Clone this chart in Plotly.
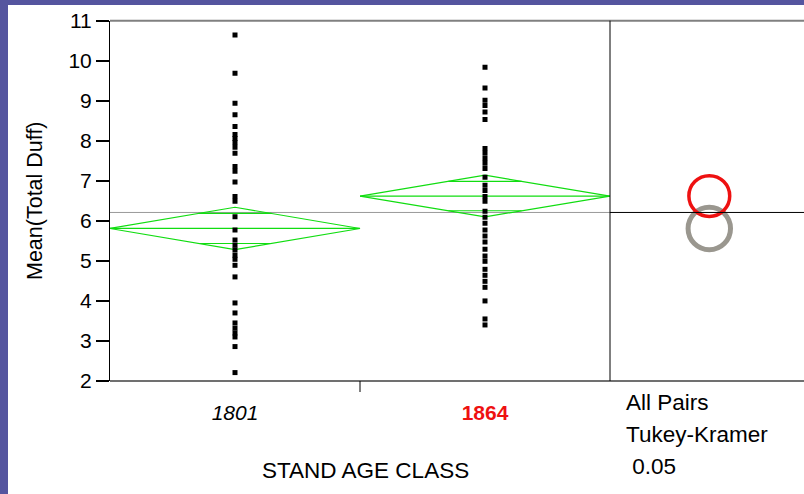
import math
import plotly.graph_objects as go

# ---------------- data ----------------
groups = ["1801", "1864"]
duff_1801 = [10.64, 9.69, 8.94, 8.65, 8.36, 8.16, 8.06, 7.96, 7.84, 7.69, 7.36, 7.24,
             6.97, 6.61, 6.49, 6.10, 5.77, 5.52, 5.39, 5.27, 5.14, 5.04, 4.89, 4.60,
             3.95, 3.70, 3.45, 3.32, 3.20, 3.10, 2.86, 2.21]
duff_1864 = [9.84, 9.32, 9.01, 8.88, 8.72, 8.53, 7.81, 7.69, 7.56, 7.44, 7.31, 7.09,
             6.89, 6.76, 6.61, 6.49, 6.24, 6.09, 5.94, 5.77, 5.62, 5.47, 5.29, 5.12,
             4.99, 4.79, 4.64, 4.49, 4.34, 4.00, 3.55, 3.40]
group_means = [5.81, 6.62]
group_ci_half = [0.53, 0.52]
circle_radius = [0.53, 0.51]
grand_mean = 6.21
y_ticks = list(range(2, 12))
side_text = ["All Pairs", "Tukey-Kramer", " 0.05"]

# ---------------- styles / layout helpers ----------------
W, H = 804, 494
FONT = "Liberation Sans, Arial, sans-serif"
GREEN = "#11dd11"
RED = "#ee1111"
GREY_C = "#9a978f"


def px(x):
    return x / W


def py(y):
    return 1 - y / H


L, R, T, B = 110, 610, 20.7, 381
ppu = (B - T) / (y_ticks[-1] - y_ticks[0])          # pixels per data unit (y)
cx_px = 709.3                                       # circle column centre (px)
x2_range = [-(cx_px - R) / ppu, (W - cx_px) / ppu]

fig = go.Figure()

# grand mean (left panel, grey)
fig.add_trace(go.Scatter(x=[0, len(groups)], y=[grand_mean, grand_mean], mode="lines",
                         line=dict(color="#999999", width=1), hoverinfo="skip",
                         showlegend=False, xaxis="x", yaxis="y"))

# mean diamonds
for i, (m, c) in enumerate(zip(group_means, group_ci_half)):
    x0, xc, x1 = i, i + 0.5, i + 1
    fig.add_trace(go.Scatter(x=[x0, xc, x1, xc, x0], y=[m, m + c, m, m - c, m],
                             mode="lines", line=dict(color=GREEN, width=1.2),
                             hoverinfo="skip", showlegend=False))
    fig.add_trace(go.Scatter(x=[x0, x1], y=[m, m], mode="lines",
                             line=dict(color=GREEN, width=1.2),
                             hoverinfo="skip", showlegend=False))
    d = c / math.sqrt(2)
    hw = 0.5 * (1 - d / c)
    for yy in (m + d, m - d):
        fig.add_trace(go.Scatter(x=[xc - hw, xc + hw], y=[yy, yy], mode="lines",
                                 line=dict(color=GREEN, width=1.2),
                                 hoverinfo="skip", showlegend=False))

# data points
for i, vals in enumerate([duff_1801, duff_1864]):
    fig.add_trace(go.Scatter(x=[i + 0.5] * len(vals), y=vals, mode="markers",
                             marker=dict(symbol="square", size=5, color="black"),
                             showlegend=False))

shapes = []
# slide border strips
shapes.append(dict(type="rect", xref="paper", yref="paper", x0=0, x1=px(8), y0=0, y1=1,
                   fillcolor="#55559f", line=dict(width=0), layer="above"))
shapes.append(dict(type="rect", xref="paper", yref="paper", x0=0, x1=1, y0=py(5), y1=1,
                   fillcolor="#55559f", line=dict(width=0), layer="above"))
# frame lines
shapes.append(dict(type="line", xref="paper", yref="paper", x0=px(L), x1=1, y0=py(T), y1=py(T),
                   line=dict(color="#808080", width=2)))
shapes.append(dict(type="line", xref="paper", yref="paper", x0=px(L), x1=1, y0=py(B), y1=py(B),
                   line=dict(color="#707070", width=2)))
shapes.append(dict(type="line", xref="paper", yref="paper", x0=px(R), x1=px(R), y0=py(B), y1=py(T),
                   line=dict(color="black", width=1)))
# group boundary tick
shapes.append(dict(type="line", xref="x", yref="paper", x0=1, x1=1, y0=py(B), y1=py(B + 11),
                   line=dict(color="black", width=1)))
# comparison circles (grey first, red on top)
for idx, col, wdt in [(0, GREY_C, 5), (1, RED, 3.5)]:
    m, r = group_means[idx], circle_radius[idx]
    shapes.append(dict(type="circle", xref="x2", yref="y", x0=-r, x1=r, y0=m - r, y1=m + r,
                       line=dict(color=col, width=wdt)))
# grand mean (right panel, black)
shapes.append(dict(type="line", xref="x2", yref="y", x0=x2_range[0], x1=x2_range[1],
                   y0=grand_mean, y1=grand_mean, line=dict(color="black", width=1)))

annotations = [
    dict(text="Mean(Total Duff)", xref="paper", yref="paper", x=px(35), y=py(201),
         xanchor="center", yanchor="middle",
         textangle=-90, showarrow=False, font=dict(family=FONT, size=21.5, color="black")),
    dict(text="STAND AGE CLASS", xref="paper", yref="paper", x=px(365), y=py(470),
         xanchor="center", yanchor="middle",
         showarrow=False, font=dict(family=FONT, size=22.5, color="black")),
]
for k, t in enumerate(side_text):
    annotations.append(dict(text=t, xref="paper", yref="paper", x=px(624), y=py(402 + 32 * k),
                            xanchor="left", yanchor="middle", showarrow=False,
                            font=dict(family=FONT, size=22.5, color="black")))

fig.update_layout(
    width=W, height=H, autosize=False,
    margin=dict(l=0, r=0, t=0, b=0, pad=0),
    paper_bgcolor="white", plot_bgcolor="white",
    xaxis=dict(domain=[px(L), px(R)], range=[0, len(groups)], showgrid=False, zeroline=False,
               showline=False, tickvals=[i + 0.5 for i in range(len(groups))],
               ticktext=["<i>" + groups[0] + "</i>",
                         "<b><span style='color:" + RED + "'>" + groups[1] + "</span></b>"],
               ticks="", ticklabelstandoff=17, anchor="y", automargin=False,
               tickfont=dict(family=FONT, size=21, color="black")),
    xaxis2=dict(domain=[px(R), 1], range=x2_range, visible=False, anchor="y"),
    yaxis=dict(domain=[py(B), py(T)], range=[y_ticks[0], y_ticks[-1]], tickvals=y_ticks,
               ticks="outside", ticklen=13, tickwidth=1.5, tickcolor="black", automargin=False,
               showline=True, linecolor="black", linewidth=1, showgrid=False, zeroline=False,
               tickfont=dict(family=FONT, size=21, color="black"), anchor="x"),
    shapes=shapes,
    annotations=annotations,
)

fig.write_html("out.html", config={"displayModeBar": False, "responsive": False},
               post_script="document.body.style.margin='0';document.body.style.padding='0';")
